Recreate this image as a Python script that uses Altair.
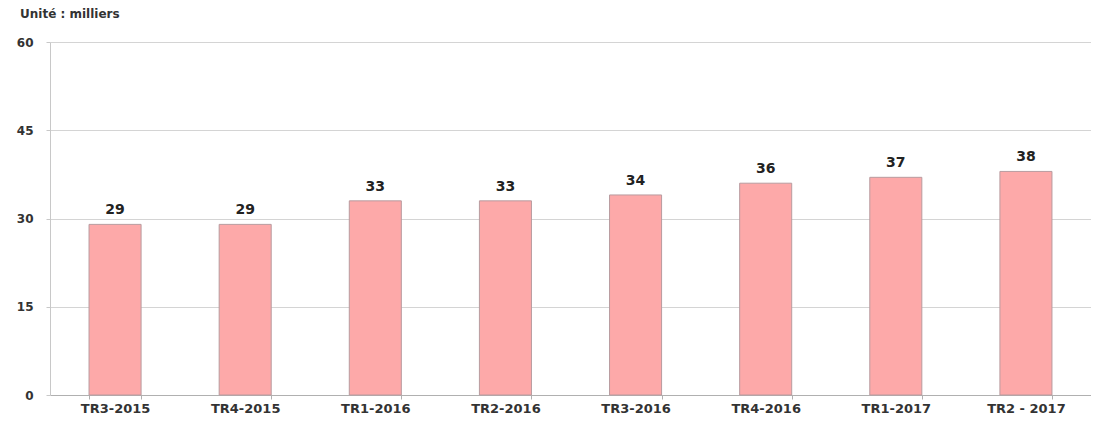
import altair as alt
import pandas as pd

categories = ["TR3-2015", "TR4-2015", "TR1-2016", "TR2-2016", "TR3-2016", "TR4-2016", "TR1-2017", "TR2 - 2017"]
values = [29, 29, 33, 33, 34, 36, 37, 38]
y_ticks = [0, 15, 30, 45, 60]

df = pd.DataFrame({"cat": categories, "val": values})

FONT = "DejaVu Sans"

x = alt.X("cat:N", sort=categories, title=None,
          scale=alt.Scale(paddingInner=0.6, paddingOuter=0.3),
          axis=alt.Axis(labelAngle=0, labelFont=FONT, labelFontWeight="bold", labelFontSize=13,
                        labelColor="#333333", labelPadding=3, domainColor="#b0b0b0",
                        tickBand="extent", tickSize=4, tickColor="#b0b0b0", grid=False))
y = alt.Y("val:Q", title=None,
          scale=alt.Scale(domain=[0, 60], nice=False),
          axis=alt.Axis(values=y_ticks, labelFont=FONT, labelFontWeight="bold", labelFontSize=12,
                        labelColor="#333333", labelPadding=13, domainColor="#c8c8c8",
                        tickSize=4, tickColor="#c8c8c8", gridColor="#d4d4d4"))

bars = alt.Chart(df).mark_bar(color="#fda9a9", stroke="#b89b9f", strokeWidth=1).encode(x=x, y=y)
labels = alt.Chart(df).mark_text(font=FONT, fontWeight="bold", fontSize=14, color="#222222",
                                 baseline="bottom", dy=-7).encode(
    x=alt.X("cat:N", sort=categories), y="val:Q", text="val:Q")

chart = (bars + labels).properties(
    width=1041, height=353,
    autosize=alt.AutoSizeParams(type="none"),
    padding={"left": 42, "top": 34, "right": 0, "bottom": 20},
    title=alt.TitleParams("Unité : milliers", anchor="start", frame="group", font=FONT,
                          fontWeight="bold", fontSize=12, color="#333333", dx=-30, offset=15),
).configure_view(stroke=None)

chart.save("out.html", embed_options={"renderer": "svg", "actions": False})
